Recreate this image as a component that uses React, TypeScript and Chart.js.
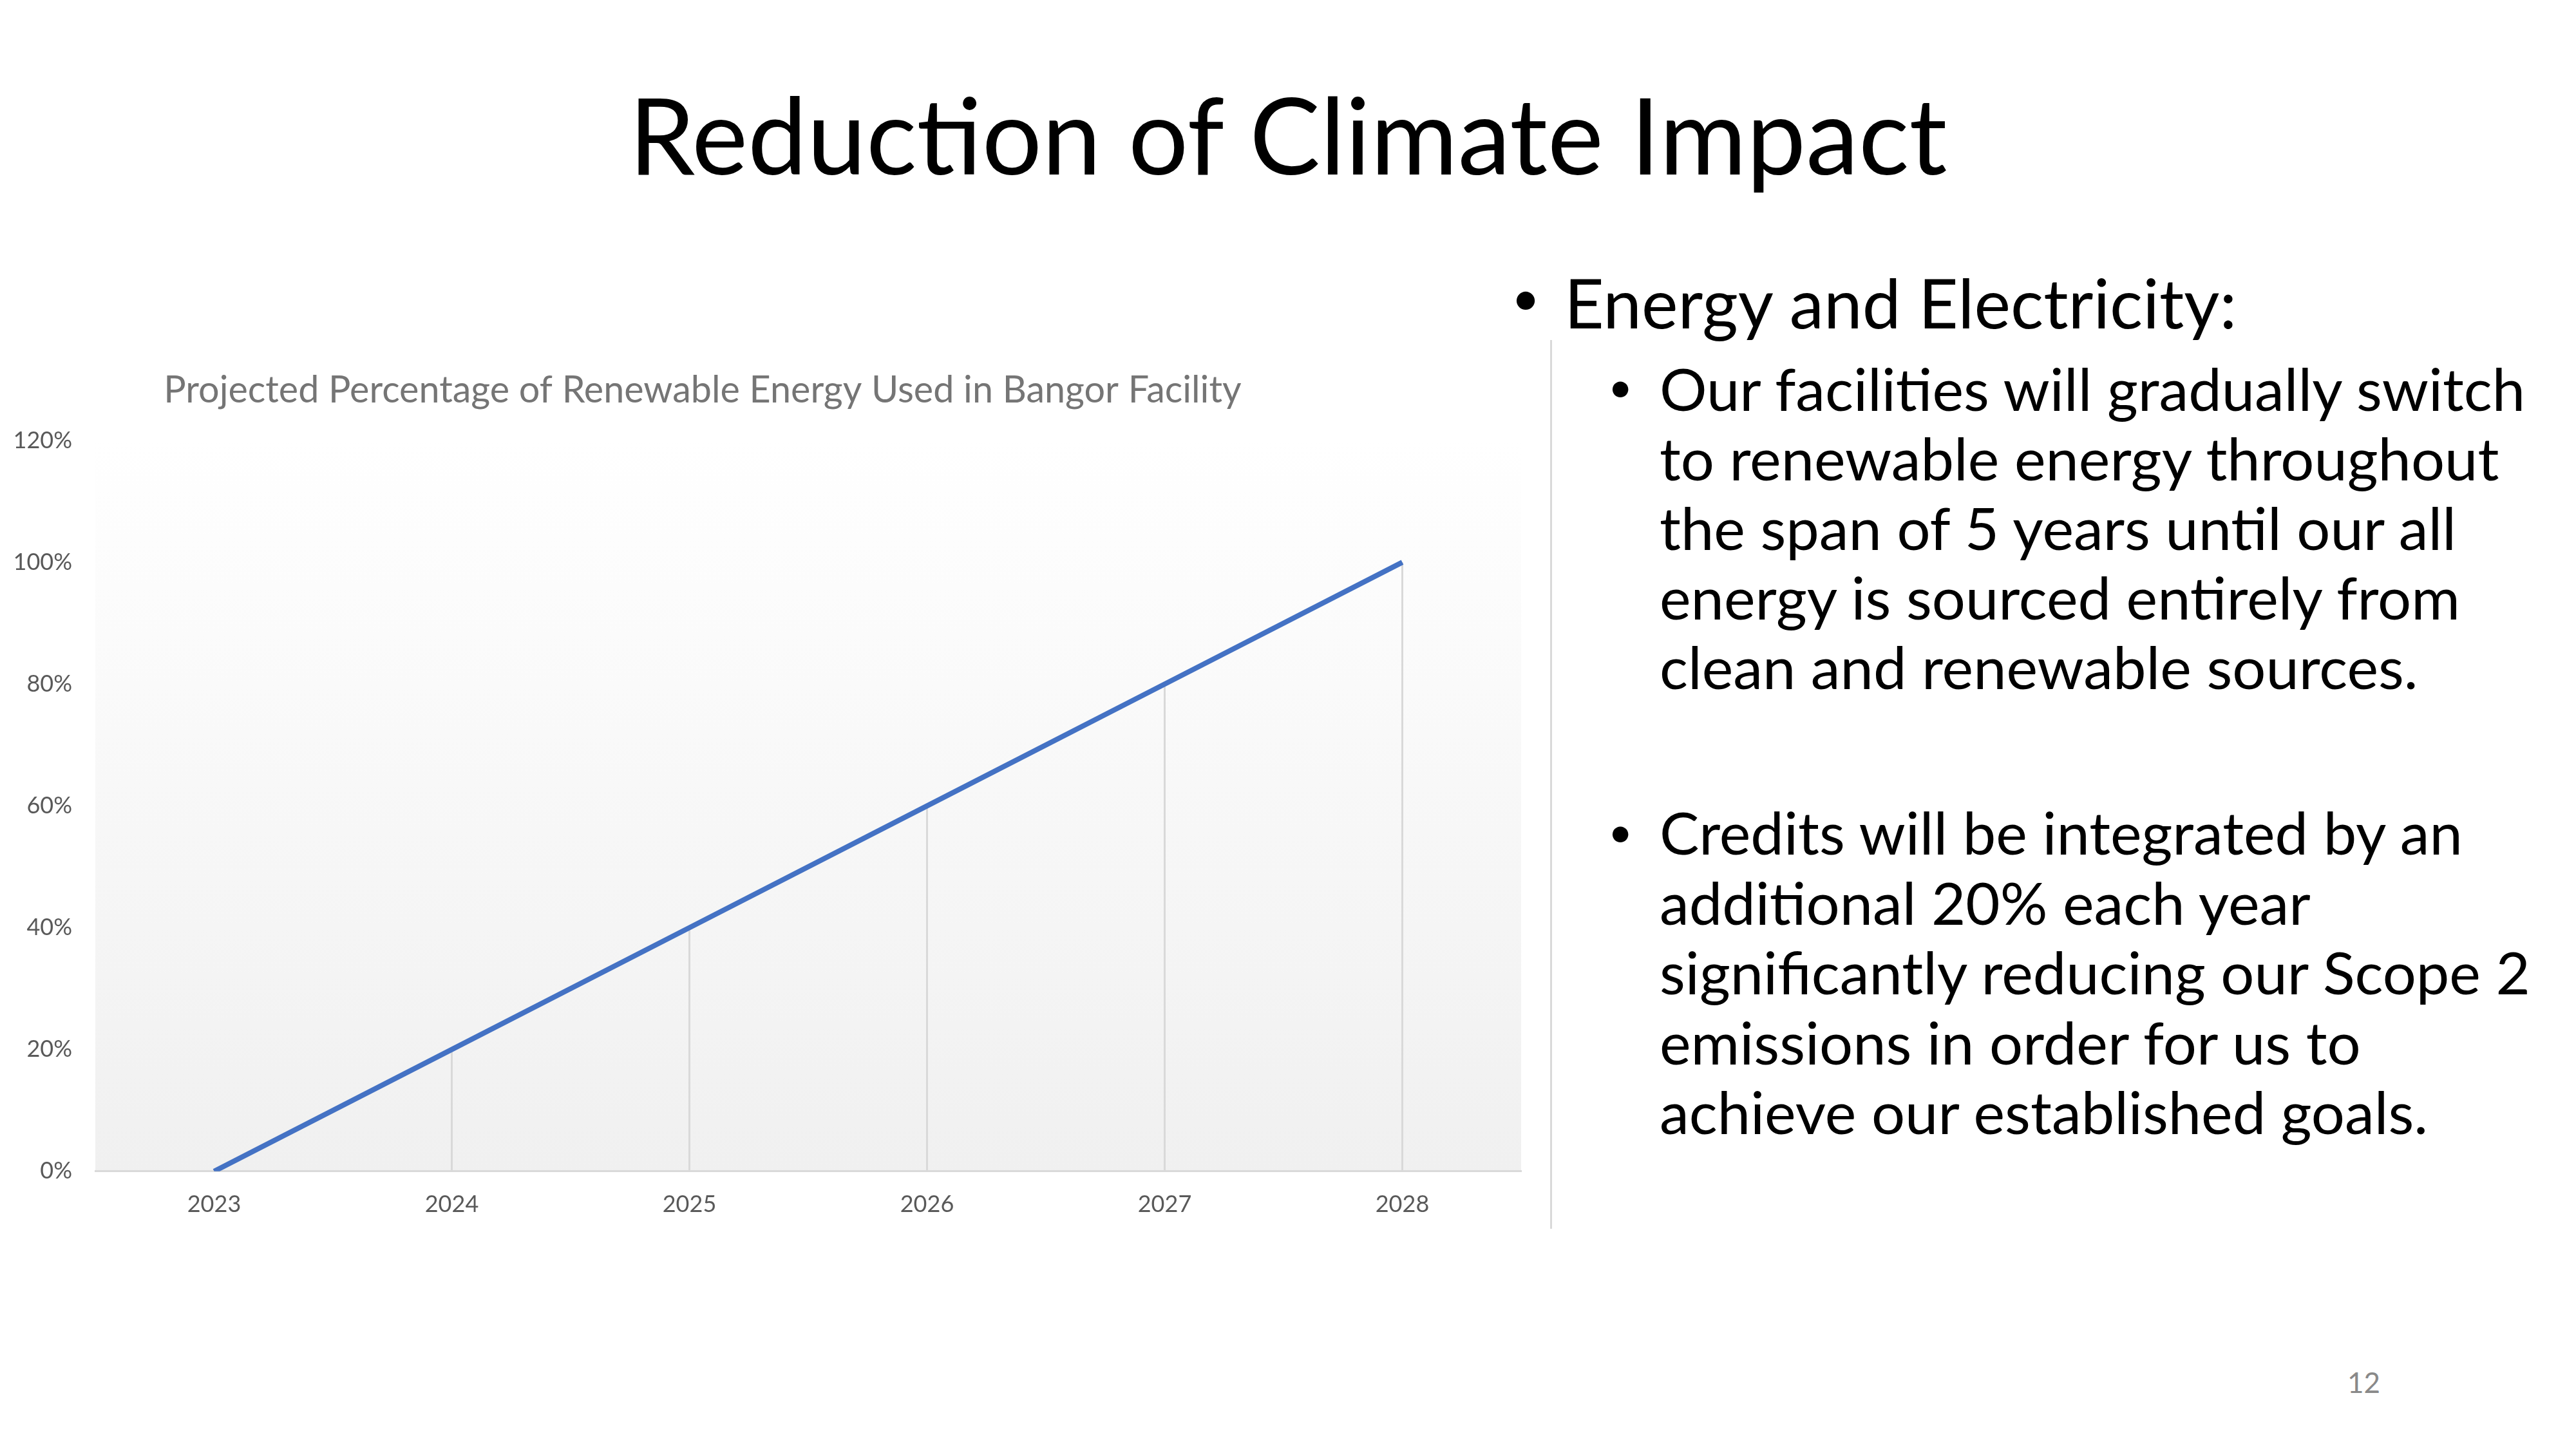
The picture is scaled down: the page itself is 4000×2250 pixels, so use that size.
import React, { useEffect, useRef } from "react";
import { Chart, registerables } from "chart.js";

Chart.register(...registerables);

// ---- data ----
const years = ["2023", "2024", "2025", "2026", "2027", "2028"];
const renewableShare = [0, 20, 40, 60, 80, 100];
const yTickValues = [0, 20, 40, 60, 80, 100, 120];

// ---- texts ----
const slideTitle = "Reduction of Climate Impact";
const chartTitle = "Projected Percentage of Renewable Energy Used in Bangor Facility";
const heading = "Energy and Electricity:";
const bullet1Lines = [
  "Our facilities will gradually switch",
  "to renewable energy throughout",
  "the span of 5 years until our all",
  "energy is sourced entirely from",
  "clean and renewable sources.",
];
const bullet2Lines = [
  "Credits will be integrated by an",
  "additional 20% each year",
  "significantly reducing our Scope 2",
  "emissions in order for us to",
  "achieve our established goals.",
];
const pageNumber = "12";

const FONT = "Lato, 'Noto Sans', sans-serif";

const plotBackground = {
  id: "plotBackground",
  beforeDraw(chart: any) {
    const { ctx, chartArea: a } = chart;
    if (!a) return;
    const g = ctx.createLinearGradient(0, a.top, 0, a.bottom);
    g.addColorStop(0, "#ffffff");
    g.addColorStop(1, "#f0f0f0");
    ctx.save();
    ctx.fillStyle = g;
    ctx.fillRect(a.left, a.top, a.right - a.left, a.bottom - a.top);
    ctx.restore();
  },
};

const dropLines = {
  id: "dropLines",
  beforeDatasetsDraw(chart: any) {
    const { ctx } = chart;
    const meta = chart.getDatasetMeta(0);
    const y0 = chart.scales.y.getPixelForValue(0);
    ctx.save();
    ctx.strokeStyle = "#d9d9d9";
    ctx.lineWidth = 3;
    meta.data.forEach((pt: any) => {
      ctx.beginPath();
      ctx.moveTo(pt.x, pt.y);
      ctx.lineTo(pt.x, y0);
      ctx.stroke();
    });
    ctx.restore();
  },
};

function LineChart() {
  const ref = useRef<HTMLCanvasElement | null>(null);
  useEffect(() => {
    if (!ref.current) return;
    const chart = new Chart(ref.current, {
      type: "line",
      data: {
        labels: years,
        datasets: [
          {
            data: renewableShare,
            borderColor: "#4472C4",
            borderWidth: 8,
            pointRadius: 0,
            pointHoverRadius: 0,
            tension: 0,
            fill: false,
          },
        ],
      },
      options: {
        animation: false,
        responsive: true,
        maintainAspectRatio: false,
        devicePixelRatio: 1,
        layout: { padding: { left: 0, right: 8, top: 0, bottom: 15 } },
        plugins: {
          legend: { display: false },
          tooltip: { enabled: false },
          title: {
            display: true,
            text: chartTitle,
            color: "#757575",
            font: { family: FONT, size: 57.5, weight: "normal" },
            padding: { top: 72, bottom: 43 },
          },
        },
        scales: {
          x: {
            offset: true,
            grid: { display: false, drawTicks: false },
            border: { display: true, color: "#d9d9d9", width: 3 },
            ticks: {
              color: "#595959",
              font: { family: FONT, size: 36 },
              padding: 30,
            },
          },
          y: {
            min: yTickValues[0],
            max: yTickValues[yTickValues.length - 1],
            grid: { display: false, drawTicks: false },
            border: { display: false },
            afterFit(scale: any) {
              scale.width = 328;
            },
            ticks: {
              stepSize: yTickValues[1] - yTickValues[0],
              color: "#595959",
              font: { family: FONT, size: 36 },
              padding: 36,
              callback: (v: any) => `${v}%`,
            },
          },
        },
      },
      plugins: [plotBackground, dropLines],
    });
    return () => chart.destroy();
  }, []);
  return (
    <div style={{ position: "absolute", left: -180, top: 500, width: 2550, height: 1437 }}>
      <canvas ref={ref} />
    </div>
  );
}

export default function App() {
  useEffect(() => {
    document.body.style.margin = "0";
  }, []);
  const textBase: React.CSSProperties = {
    position: "absolute",
    fontFamily: FONT,
    color: "#000",
    whiteSpace: "nowrap",
  };
  return (
    <div
      style={{
        position: "absolute",
        left: 0,
        top: 0,
        width: 4000,
        height: 2250,
        background: "#fff",
        overflow: "hidden",
      }}
    >
      <div
        style={{
          ...textBase,
          left: 0,
          width: 4000,
          top: 110,
          textAlign: "center",
          fontSize: 164.5,
          fontWeight: 400,
          lineHeight: "196px",
        }}
      >
        {slideTitle}
      </div>

      <LineChart />

      <div
        style={{
          position: "absolute",
          left: 2407,
          top: 528,
          width: 3,
          height: 1380,
          background: "#d9d9d9",
        }}
      />

      <div style={{ ...textBase, left: 2347, top: 414, fontSize: 76, lineHeight: "91px" }}>•</div>
      <div style={{ ...textBase, left: 2429, top: 405, fontSize: 107, lineHeight: "128px" }}>{heading}</div>

      <div style={{ ...textBase, left: 2497, top: 559, fontSize: 66, lineHeight: "79px" }}>•</div>
      <div style={{ ...textBase, left: 2577, top: 549, fontSize: 92, lineHeight: "108px" }}>
        {bullet1Lines.map((l, i) => (
          <div key={i}>{l}</div>
        ))}
      </div>

      <div style={{ ...textBase, left: 2497, top: 1250, fontSize: 66, lineHeight: "79px" }}>•</div>
      <div style={{ ...textBase, left: 2577, top: 1238, fontSize: 92, lineHeight: "108.5px" }}>
        {bullet2Lines.map((l, i) => (
          <div key={i}>{l}</div>
        ))}
      </div>

      <div style={{ ...textBase, left: 3645, top: 2120, fontSize: 44, color: "#898989", lineHeight: "53px" }}>
        {pageNumber}
      </div>
    </div>
  );
}
